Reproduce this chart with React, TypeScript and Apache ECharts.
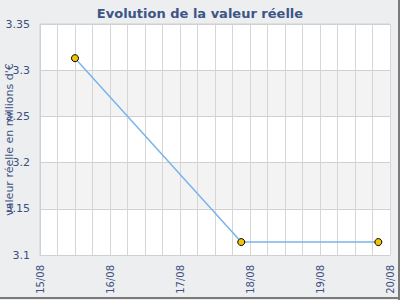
import React, { useEffect, useRef } from "react";
import * as echarts from "echarts";

const title = "Evolution de la valeur réelle";
const yAxisName = "valeur réelle en millions d'€";
const pointDates = ["2011-08-15T12:00:00Z", "2011-08-17T21:00:00Z", "2011-08-19T20:00:00Z"];
const pointValues = [3.313, 3.114, 3.114];
const xStart = "2011-08-15T00:00:00Z";
const xEnd = "2011-08-20T00:00:00Z";
const yMin = 3.1;
const yMax = 3.35;
const yStep = 0.05;

const DAY = 86400000;
const STEP = DAY / 4;

export default function App() {
  const ref = useRef<HTMLDivElement>(null);
  useEffect(() => {
    document.body.style.margin = "0";
    const chart = echarts.init(ref.current!, null, { renderer: "svg" });
    const textColor = "#3d5080";
    const font = "DejaVu Sans";
    chart.setOption({
      animation: false,
      backgroundColor: "#eceef0",
      title: {
        text: title,
        left: "center",
        top: 2,
        textStyle: { color: "#3d5585", fontSize: 13, fontWeight: "bold", fontFamily: font },
      },
      grid: {
        left: 40,
        right: 10,
        top: 24,
        bottom: 45,
        containLabel: false,
        outerBoundsMode: "none",
        show: true,
        borderColor: "#d0d0d0",
        borderWidth: 1,
        backgroundColor: "#ffffff",
      },
      xAxis: {
        type: "value",
        min: Date.parse(xStart),
        max: Date.parse(xEnd),
        interval: STEP,
        axisLine: { show: true, lineStyle: { color: "#d0d0d0" } },
        axisTick: { show: false },
        splitLine: { show: true, lineStyle: { color: "#d6d6d6" } },
        axisLabel: {
          rotate: 90,
          margin: 10,
          color: textColor,
          fontSize: 10,
          fontFamily: font,
          showMinLabel: true,
          showMaxLabel: true,
          hideOverlap: false,
          interval: 0,
          formatter: (v: number) => {
            if (Math.round(v) % DAY !== 0) return "";
            const d = new Date(v);
            const dd = String(d.getUTCDate()).padStart(2, "0");
            const mm = String(d.getUTCMonth() + 1).padStart(2, "0");
            return dd + "/" + mm;
          },
        },
      },
      yAxis: {
        type: "value",
        min: yMin,
        max: yMax,
        interval: yStep,
        name: yAxisName,
        nameLocation: "middle",
        nameGap: 25,
        nameMoveOverlap: false,
        nameTextStyle: { color: textColor, fontSize: 11, fontFamily: font },
        axisLine: { show: true, lineStyle: { color: "#d0d0d0" } },
        axisTick: { show: false },
        splitLine: { show: true, lineStyle: { color: "#d0d0d0" } },
        splitArea: { show: true, areaStyle: { color: ["#ffffff", "#f3f3f3"] } },
        axisLabel: {
          margin: 10,
          color: textColor,
          fontSize: 11,
          fontFamily: font,
          formatter: (v: number) => String(+v.toFixed(2)),
        },
      },
      series: [
        {
          type: "line",
          data: pointDates.map((d, i) => [Date.parse(d), pointValues[i]]),
          lineStyle: { color: "#7ab4ea", width: 1.5 },
          symbol: "circle",
          symbolSize: 7,
          itemStyle: { color: "#f5c400", borderColor: "#000000", borderWidth: 1 },
        },
      ],
      graphic: [
        { type: "rect", shape: { x: 398, y: 0, width: 2, height: 300 }, style: { fill: "#7a7a7a" } },
        { type: "rect", shape: { x: 0, y: 297, width: 400, height: 2 }, style: { fill: "#7a7a7a" } },
      ],
    });
    return () => chart.dispose();
  }, []);
  return <div ref={ref} style={{ width: 400, height: 300 }} />;
}
